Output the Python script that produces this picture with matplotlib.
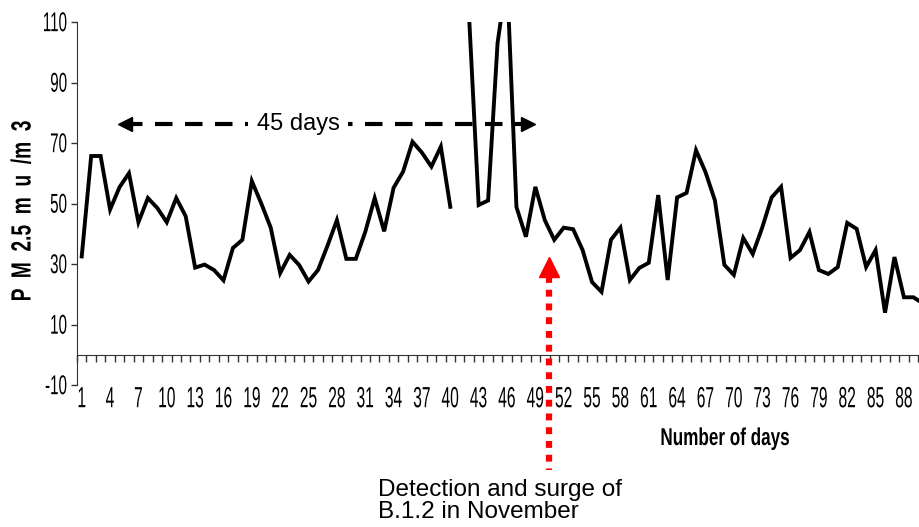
import numpy as np
import matplotlib.pyplot as plt
from matplotlib.patheffects import AbstractPathEffect
from matplotlib.transforms import Affine2D

OUTPUT_IMAGE = "out.png"

# daily PM2.5 values (day 41 missing)
days = np.arange(1, 91)
pm25 = [32.5, 65.7, 65.7, 48, 55.4, 60, 43.8, 51.8, 48.5, 43.8,
        51.8, 45.8, 28.8, 29.8, 28, 24.6, 35.3, 38, 57.4, 50,
        42, 27, 33, 29.7, 24.2, 28, 36, 44.5, 31.7, 31.7,
        40.6, 51.8, 40.8, 55.2, 60.5, 70.4, 66.8, 62.2, 68.8, 48.9,
        np.nan, 111, 49.5, 51, 103, 125, 48.8, 39, 55.5, 44.5,
        38, 42, 41.5, 34.6, 24, 20.8, 38, 42, 24.7, 28.7,
        30.4, 52.8, 24.7, 52, 53.5, 67.6, 60.4, 51, 29.7, 26.4,
        38.6, 33.3, 42, 52, 55.5, 32, 34.6, 40.6, 28, 26.7,
        29, 43.6, 41.6, 29, 34.6, 13.9, 32.3, 19, 19, 17]
x_labels = list(range(1, 91, 3))
y_ticks = [-10, 10, 30, 50, 70, 90, 110]

FONT = ['Liberation Sans', 'DejaVu Sans']


# squeeze / stretch glyphs so the text looks like the narrow font of the original
class Stretch(AbstractPathEffect):
    def __init__(self, sx, sy, anchor='center'):
        super().__init__()
        self.sx, self.sy, self.anchor = sx, sy, anchor

    def draw_path(self, renderer, gc, tpath, affine, rgbFace=None):
        ext = tpath.get_extents()
        cx = {'left': ext.x0, 'right': ext.x1}.get(self.anchor, (ext.x0 + ext.x1) / 2)
        cy = (ext.y0 + ext.y1) / 2
        t = Affine2D().translate(-cx, -cy).scale(self.sx, self.sy).translate(cx, cy)
        renderer.draw_path(gc, tpath, t + affine, rgbFace)


fig = plt.figure(figsize=(9.2, 5.27), dpi=100)
ax = fig.add_axes([77 / 920, 1 - 385 / 527, 1 - 77 / 920, 363 / 527])

ax.plot(days, pm25, color='black', lw=2.8, solid_joinstyle='miter')

ax.set_xlim(0.5, 89.7)
ax.set_ylim(-10, 110)

# axes styling
for s in ['top', 'right']:
    ax.spines[s].set_visible(False)
ax.spines['left'].set_color('#333333')
ax.spines['bottom'].set_position(('data', 0))
ax.spines['bottom'].set_color('#333333')

ax.set_yticks(y_ticks)
ax.set_yticklabels([str(v) for v in y_ticks], family=FONT, fontsize=14,
                   path_effects=[Stretch(0.78, 1.4, 'right')])
ax.tick_params(axis='y', direction='out', length=4, width=1, color='#333333', pad=3)

ax.set_xticks(x_labels)
ax.set_xticklabels([str(v) for v in x_labels], family=FONT, fontsize=14,
                   path_effects=[Stretch(0.8, 1.5)])
ax.set_xticks(np.arange(0.5, 90, 1), minor=True)
ax.tick_params(axis='x', which='major', length=0, pad=26)
ax.tick_params(axis='x', which='minor', direction='out', length=5, width=1, color='#333333')

ax.set_xlabel("Number of days", family=FONT, fontsize=14, fontweight='bold',
              path_effects=[Stretch(0.88, 1.25)])
ax.xaxis.set_label_coords(0.769, -0.126)
ax.set_ylabel("P  M  2.5  m  u  /m  3", family=FONT, fontsize=20, fontweight='bold',
              path_effects=[Stretch(0.69, 1.0)])
ax.yaxis.set_label_coords(-0.048, 0.48)

# "45 days" dashed double arrow
ax.plot([5.6, 48.2], [76.2, 76.2], color='black', lw=3, dashes=(4.2, 3), dash_capstyle='butt', zorder=1)
ax.plot(5.6, 76.2, marker='<', ms=10, color='black', zorder=1)
ax.plot(48.2, 76.2, marker='>', ms=10, color='black', zorder=1)
ax.text(23.9, 76.2, "45 days", family=FONT, fontsize=17, ha='center', va='center',
        bbox=dict(facecolor='white', edgecolor='none', pad=6), zorder=2)

# red dotted arrow for detection date
ax.plot([50.4, 50.4], [26, -38], color='red', lw=4.5, dashes=(1.1, 1.1), dash_capstyle='butt', clip_on=False)
ax.plot(50.4, 29, marker='^', ms=15, color='red', mec='red', clip_on=False)
fig.text(378 / 920, 1 - 501 / 527, "Detection and surge of\nB.1.2 in November",
         family=FONT, fontsize=17.5, ha='left', va='center', linespacing=0.95)

plt.savefig(OUTPUT_IMAGE, dpi=100)
